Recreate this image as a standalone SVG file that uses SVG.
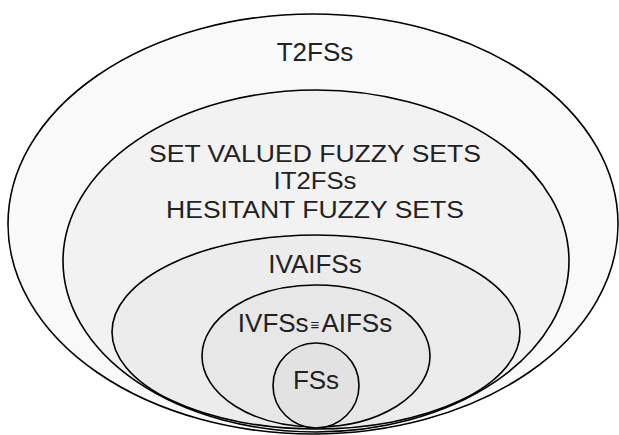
<svg xmlns="http://www.w3.org/2000/svg" width="619" height="435" viewBox="0 0 619 435">
<style>
.e{stroke:#000;stroke-width:1.6}
.t{font-family:"Liberation Sans",Arial,sans-serif;font-size:26px;fill:#222;text-anchor:middle}
.s{font-size:23px}
</style>
<rect width="619" height="435" fill="#fff"/>
<g id="t2fss">
<ellipse class="e" cx="313" cy="224" rx="305" ry="210" fill="#f9f9f9"/>
<text class="t" x="315" y="61">T2FSs</text>
</g>
<g id="setvalued">
<ellipse class="e" cx="316" cy="261" rx="253" ry="171" fill="#f2f2f2"/>
<text class="t s" x="315" y="162" textLength="332" lengthAdjust="spacingAndGlyphs">SET VALUED FUZZY SETS</text>
<text class="t s" x="315" y="189" textLength="83" lengthAdjust="spacingAndGlyphs">IT2FSs</text>
<text class="t s" x="315" y="218" textLength="298" lengthAdjust="spacingAndGlyphs">HESITANT FUZZY SETS</text>
</g>
<g id="ivaifss">
<ellipse class="e" cx="316" cy="332" rx="204" ry="97" fill="#ececec"/>
<text class="t" x="315" y="273">IVAIFSs</text>
</g>
<g id="ivfss">
<ellipse class="e" cx="316" cy="356" rx="114" ry="71" fill="#e7e7e7"/>
<text class="t" x="315" y="332">IVFSs<tspan font-size="15" dx="2" dy="-2">≡</tspan><tspan dx="2" dy="2">AIFSs</tspan></text>
</g>
<g id="fss">
<ellipse class="e" cx="316" cy="385.5" rx="43" ry="42.5" fill="#e2e2e2"/>
<text class="t" x="316" y="389">FSs</text>
</g>
<g id="connectors"/>
</svg>
